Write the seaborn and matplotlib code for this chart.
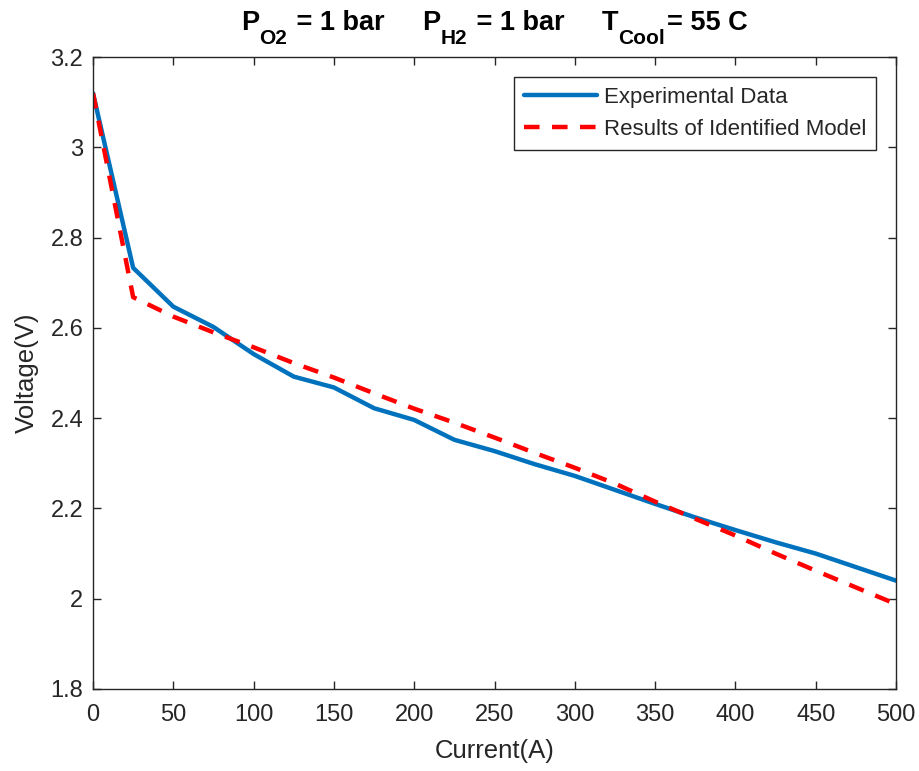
import numpy as np
import pandas as pd
import matplotlib
matplotlib.use("Agg")
from matplotlib import pyplot as plt
from matplotlib.ticker import FuncFormatter
from matplotlib.transforms import IdentityTransform
import seaborn as sns

# current steps (A)
current = [0, 25, 50, 75, 100, 125, 150, 175, 200, 225, 250,
           275, 300, 325, 350, 375, 400, 425, 450, 475, 500]

# measured stack voltage (V)
v_exp = [3.12, 2.733, 2.647, 2.602, 2.542, 2.492, 2.468, 2.422, 2.396, 2.352, 2.327,
         2.298, 2.272, 2.241, 2.210, 2.180, 2.152, 2.125, 2.100, 2.070, 2.040]

# identified model output (V)
v_model = [3.12, 2.668, 2.625, 2.590, 2.557, 2.522, 2.490, 2.455, 2.421, 2.390, 2.357,
           2.323, 2.290, 2.255, 2.215, 2.177, 2.140, 2.100, 2.062, 2.025, 1.988]

labels = ["Experimental Data", "Results of Identified Model"]
xticks = list(range(0, 501, 50))
yticks = [1.8, 2.0, 2.2, 2.4, 2.6, 2.8, 3.0, 3.2]

# title pieces: (text, is_subscript)
title_parts = [("P", False), ("O2", True), (" = 1 bar     ", False),
               ("P", False), ("H2", True), (" = 1 bar     ", False),
               ("T", False), ("Cool", True), ("= 55 C", False)]

sns.set_theme(style="ticks")
plt.rcParams['font.family'] = ['Liberation Sans', 'DejaVu Sans']

dark = "#262626"
W, H = 919, 771

fig = plt.figure(figsize=(W / 100, H / 100), dpi=100)
ax = fig.add_axes([0.1012, 0.1064, 0.8738, 0.8196])

df = pd.DataFrame({"I": current, "exp": v_exp, "model": v_model})
sns.lineplot(data=df, x="I", y="exp", ax=ax, color="#0072BD", lw=3.2,
             label=labels[0])
sns.lineplot(data=df, x="I", y="model", ax=ax, color="#FF0000", lw=3.2,
             label=labels[1])
ax.lines[1].set_linestyle((0, (3.5, 2.8)))

ax.set_xlim(0, 500)
ax.set_ylim(1.8, 3.2)
ax.set_xticks(xticks)
ax.set_yticks(yticks)
ax.yaxis.set_major_formatter(FuncFormatter(lambda v, p: "%g" % round(v, 2)))

ax.tick_params(direction="in", length=5.5, width=1.0, colors=dark,
               labelsize=17, top=True, right=True, pad=7)
ax.tick_params(axis="x", pad=11)
for s in ax.spines.values():
    s.set_color(dark)
    s.set_linewidth(1.0)

ax.set_xlabel("Current(A)", fontsize=18.5, color=dark, labelpad=9)
ax.set_ylabel("Voltage(V)", fontsize=18.5, color=dark, labelpad=8)

leg = ax.legend(loc="upper right", fontsize=16, frameon=True, fancybox=False,
                framealpha=1, edgecolor=dark, handlelength=3.3,
                borderaxespad=0.9, borderpad=0.45, labelspacing=0.5,
                handletextpad=0.3)
leg.get_frame().set_linewidth(1.0)

# title with MATLAB-like subscripts, laid out piece by piece
renderer = fig.canvas.get_renderer()
base_y = H - 30
pieces = []
x = 0.0
for txt, sub in title_parts:
    t = fig.text(x, base_y - (14 if sub else 0), txt, transform=IdentityTransform(),
                 fontsize=15 if sub else 19.5, fontweight="bold", color="black",
                 va="baseline", ha="left")
    w = t.get_window_extent(renderer).width
    pieces.append(t)
    x += w + (2 if sub else 0)
center = (0.1012 + 0.8738 / 2) * W
shift = center - x / 2
for t in pieces:
    px, py = t.get_position()
    t.set_position((px + shift, py))

fig.savefig("out.png", dpi=100)
